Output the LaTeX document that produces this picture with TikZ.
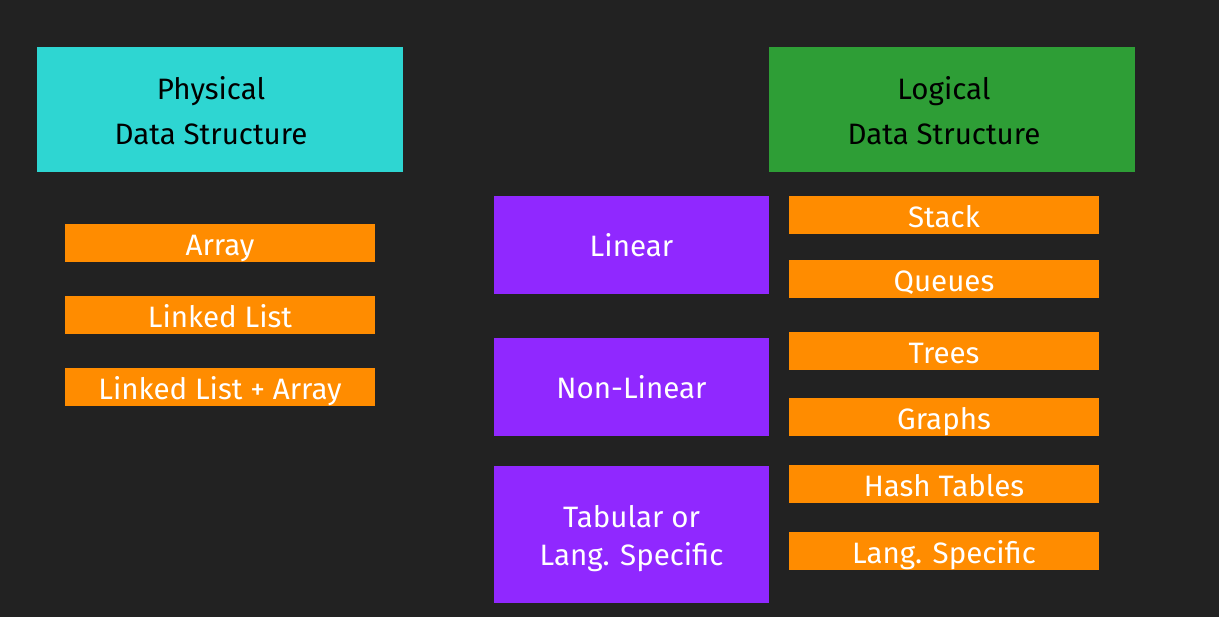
\documentclass[tikz,border=0pt]{standalone}
\usepackage{fontspec}
\setmainfont{Fira Sans}
\definecolor{bg}{HTML}{222222}
\definecolor{cyanbox}{HTML}{2ED6D2}
\definecolor{greenbox}{HTML}{2E9E36}
\definecolor{purplebox}{HTML}{9028FF}
\definecolor{orangebox}{HTML}{FF8C00}
\begin{document}
\begin{tikzpicture}[x=1pt,y=-1pt,
  box/.style={inner sep=0pt,outer sep=0pt,align=center,font=\fontsize{29.5}{38}\selectfont},
  head/.style={box,text=black,minimum width=366pt,minimum height=125pt},
  leaf/.style={box,fill=orangebox,text=white,minimum width=310pt,minimum height=38pt,text height=28pt,text depth=3.6pt},
  cat/.style={box,fill=purplebox,text=white,minimum width=275pt},
  lbl/.style={align=center,inner sep=0pt,font=\fontsize{29.5}{45}\selectfont},
]
\fill[bg] (0,0) rectangle (1219,617);
\useasboundingbox (0,0) rectangle (1219,617);
\node[head,fill=cyanbox] (phys) at (220,109.5) {};
\node[lbl,text=black] (physt) at (211,111) {Physical\\Data Structure};
\node[head,fill=greenbox] (logi) at (952,109.5) {};
\node[lbl,text=black] (logit) at (944,111) {Logical\\Data Structure};
\node[leaf] (array) at (220,243) {Array};
\node[leaf] (ll) at (220,315) {Linked List};
\node[leaf] (llarr) at (220,387) {Linked List + Array};
\node[cat,minimum height=98pt] (linear) at (631.5,245) {Linear};
\node[cat,minimum height=98pt] (nonlin) at (631.5,387) {Non-Linear};
\node[cat,minimum height=137pt] (tab) at (631.5,534.5) {};
\node[lbl,text=white,font=\fontsize{29.5}{38}\selectfont] (tabt) at (631.5,538.5) {Tabular or\\Lang. Specific};
\node[leaf] (stack) at (944,215) {Stack};
\node[leaf] (queues) at (944,279) {Queues};
\node[leaf] (trees) at (944,351) {Trees};
\node[leaf] (graphs) at (944,417) {Graphs};
\node[leaf] (hash) at (944,484) {Hash Tables};
\node[leaf] (lang) at (944,551) {Lang. Specific};
\end{tikzpicture}
\end{document}
